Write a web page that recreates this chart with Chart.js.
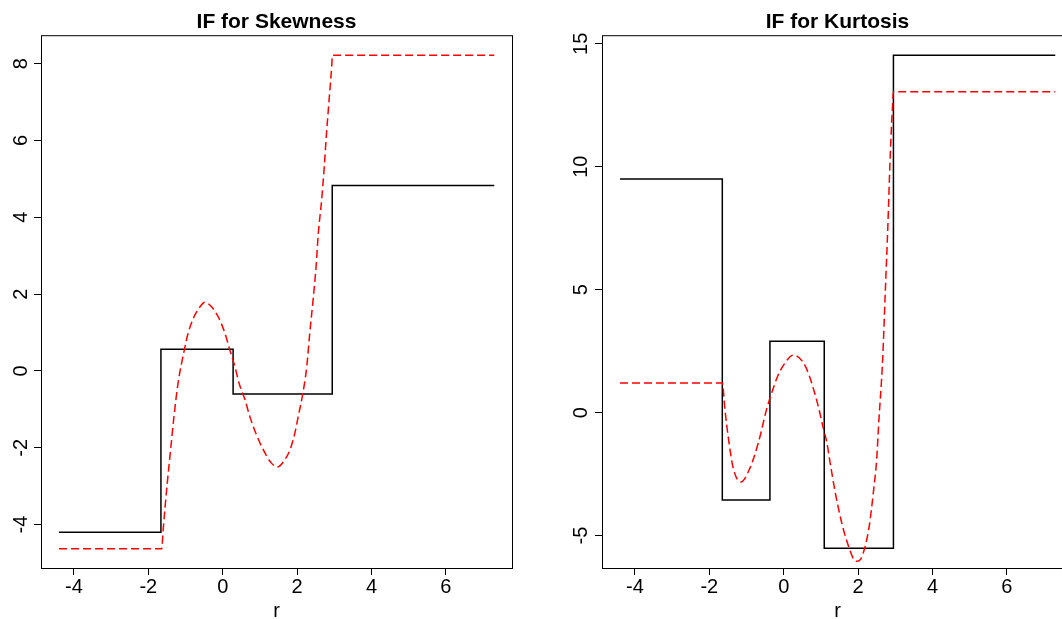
<!DOCTYPE html>
<html>
<head>
<meta charset="utf-8">
<script src="https://cdn.jsdelivr.net/npm/chart.js@4.4.1/dist/chart.umd.min.js"></script>
<style>
  html, body { margin: 0; padding: 0; background: #fff; overflow: hidden; }
  #wrap { position: relative; width: 1062px; height: 619px; overflow: hidden; }
  .panel { position: absolute; top: 0; width: 561px; height: 619px; }
</style>
</head>
<body>
<div id="wrap">
  <div class="panel" style="left:0"><canvas id="skewChart" width="561" height="619"></canvas></div>
  <div class="panel" style="left:561px"><canvas id="kurtChart" width="561" height="619"></canvas></div>
</div>
<script>
// tick labels
let xTicks = [-4, -2, 0, 2, 4, 6];
let skewTicks = [-4, -2, 0, 2, 4, 6, 8];
let kurtTicks = [-5, 0, 5, 10, 15];

// IF for Skewness: step function (black) and dashed curve (red)
let skewStepX = [-4.4, -1.66, 0.28, 2.945, 7.3];
let skewStepY = [-4.2, 0.567, -0.6, 4.83, 4.83];
let skewCurveX = [-4.4, -1.64, -1.6, -1.49, -1.4, -1.31, -1.2, -1.03, -0.93, -0.77, -0.61, -0.48,
  -0.3, -0.12, 0.06, 0.19, 0.33, 0.44, 0.6, 0.73, 0.89, 1.09, 1.31, 1.47, 1.67, 1.81, 1.94,
  2.03, 2.15, 2.26, 2.34, 2.43, 2.51, 2.57, 2.66, 2.73, 2.79, 2.86, 2.93, 2.95, 7.3];
let skewCurveY = [-4.63, -4.63, -4.13, -2.92, -2.05, -1.19, -0.32, 0.55, 0.98, 1.41, 1.67, 1.79,
  1.67, 1.41, 0.98, 0.55, 0.11, -0.32, -0.75, -1.19, -1.62, -2.05, -2.4, -2.5, -2.31, -2.05, -1.62,
  -1.19, -0.61, 0.11, 0.98, 1.85, 2.71, 3.58, 4.45, 5.31, 6.18, 7.05, 7.92, 8.22, 8.22];

// IF for Kurtosis
let kurtStepX = [-4.4, -1.65, -0.37, 1.09, 2.95, 7.3];
let kurtStepY = [9.5, -3.55, 2.9, -5.52, 14.53, 14.53];
let kurtCurveX = [-4.4, -1.65, -1.58, -1.47, -1.35, -1.15, -0.92, -0.68, -0.46, -0.32, -0.16, 0.04,
  0.26, 0.53, 0.69, 0.83, 0.95, 1.05, 1.16, 1.25, 1.38, 1.58, 1.77, 1.88, 1.97, 2.07, 2.17, 2.3,
  2.41, 2.5, 2.55, 2.66, 2.73, 2.8, 2.86, 2.92, 2.95, 7.3];
let kurtCurveY = [1.2, 1.2, 0.13, -1.22, -2.3, -2.82, -2.3, -1.22, 0.13, 0.81, 1.49, 2.03,
  2.34, 2.03, 1.49, 0.81, 0.13, -0.54, -1.22, -2.05, -3.2, -4.61, -5.55, -5.96, -6.05, -5.96, -5.55, -4.61,
  -3.25, -1.9, -0.54, 2.16, 4.87, 7.58, 10.29, 12.32, 13.05, 13.05];

let fontFamily = '"Liberation Sans", Arial, Helvetica, sans-serif';

function pts(xs, ys) {
  return xs.map((x, i) => ({ x: x, y: ys[i] }));
}

// R style box round the plot region
const boxPlugin = {
  id: 'box',
  afterDraw(chart) {
    const a = chart.chartArea;
    const c = chart.ctx;
    c.save();
    c.strokeStyle = '#000';
    c.lineWidth = 1;
    c.strokeRect(a.left + 0.5, a.top + 0.5, a.right - a.left, a.bottom - a.top);
    c.restore();
  }
};

function drawPanel(id, title, yMin, yMax, yTicks, yPad, stepPts, curvePts) {
  let ctx = document.getElementById(id).getContext('2d');
  return new Chart(ctx, {
    type: 'line',
    data: {
      datasets: [{
        data: curvePts,
        borderColor: '#ff0000',
        borderWidth: 1.5,
        borderDash: [8, 4],
        cubicInterpolationMode: 'monotone',
        pointRadius: 0,
        fill: false
      }, {
        data: stepPts,
        borderColor: '#000',
        borderWidth: 1.5,
        stepped: 'before',
        pointRadius: 0,
        fill: false
      }]
    },
    options: {
      responsive: false,
      animation: false,
      devicePixelRatio: 1,
      layout: { padding: { left: 0, right: 49, top: 0, bottom: 0 } },
      plugins: {
        legend: { display: false },
        tooltip: { enabled: false },
        title: {
          display: true,
          text: title,
          color: '#000',
          fullSize: false,
          font: { family: fontFamily, size: 21, weight: 'bold' },
          padding: { top: 10, bottom: 0 }
        }
      },
      scales: {
        x: {
          type: 'linear',
          min: -4.884,
          max: 7.777,
          afterBuildTicks: (s) => { s.ticks = xTicks.map(v => ({ value: v })); },
          afterFit: (s) => { s.height = 51; },
          border: { display: false },
          grid: { drawOnChartArea: false, drawTicks: true, tickLength: 7, color: '#000' },
          ticks: { color: '#000', padding: 0, font: { family: fontFamily, size: 20 } },
          title: {
            display: true,
            text: 'r',
            color: '#000',
            font: { family: fontFamily, size: 20, lineHeight: 1 },
            padding: { top: 0, bottom: -2 }
          }
        },
        y: {
          type: 'linear',
          min: yMin,
          max: yMax,
          afterBuildTicks: (s) => { s.ticks = yTicks.map(v => ({ value: v })); },
          afterFit: (s) => { s.width = 41; },
          border: { display: false },
          grid: { drawOnChartArea: false, drawTicks: true, tickLength: 7, color: '#000' },
          ticks: {
            color: '#000',
            minRotation: 90,
            maxRotation: 90,
            crossAlign: 'center',
            padding: yPad,
            font: { family: fontFamily, size: 20 }
          }
        }
      }
    },
    plugins: [boxPlugin]
  });
}

drawPanel('skewChart', 'IF for Skewness', -5.13, 8.74, skewTicks, 4,
  pts(skewStepX, skewStepY), pts(skewCurveX, skewCurveY));
drawPanel('kurtChart', 'IF for Kurtosis', -6.32, 15.35, kurtTicks, 2,
  pts(kurtStepX, kurtStepY), pts(kurtCurveX, kurtCurveY));
</script>
</body>
</html>
